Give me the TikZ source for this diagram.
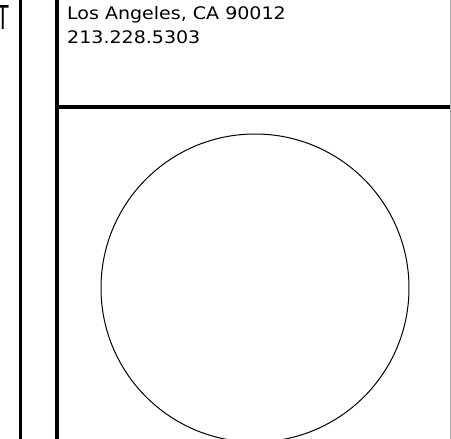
\documentclass[tikz,border=0pt]{standalone}
\usepackage{fontspec}
\setmainfont{DejaVu Sans}
\newfontfamily\addrfont[FakeStretch=1.1]{DejaVu Sans}
\newfontfamily\tfont{Liberation Sans}
\begin{document}
\begin{tikzpicture}[x=1pt,y=-1pt,
  rule/.style={line width=3.8pt,black},
  addr/.style={anchor=base west,inner sep=0pt,font=\addrfont\fontsize{17.3}{19}\selectfont}]
\useasboundingbox (0,0) rectangle (451,439);
\clip (0,0) rectangle (451,439);
\fill[white] (0,0) rectangle (451,439);
% partial letter at left edge
\node[anchor=base west,inner sep=0pt] (t) at (-3.5,29) {\resizebox{12.5pt}{24pt}{\tfont\fontsize{30}{30}\selectfont T}};
% vertical rules
\coordinate (v1t) at (20.5,-2);
\coordinate (v1b) at (20.5,441);
\coordinate (v2t) at (56.7,-2);
\coordinate (v2b) at (56.7,441);
\draw[rule] (v1t) -- (v1b);
\draw[rule] (v2t) -- (v2b);
% horizontal rule
\coordinate (hl) at (56.7,107);
\coordinate (hr) at (450,107);
\draw[rule] (hl) -- (hr);
% right edge gray line
\coordinate (gt) at (450.5,0);
\coordinate (gb) at (450.5,439);
\draw[gray!60,line width=1pt] (gt) -- (gb);
% address text
\node[addr] (l1) at (67,19.4) {Los Angeles, CA 90012};
\node[addr] (l2) at (67,43) {213.228.5303};
% circle
\node[draw,circle,line width=1pt,minimum size=308pt,inner sep=0pt] (c) at (255,288) {};
\end{tikzpicture}
\end{document}
